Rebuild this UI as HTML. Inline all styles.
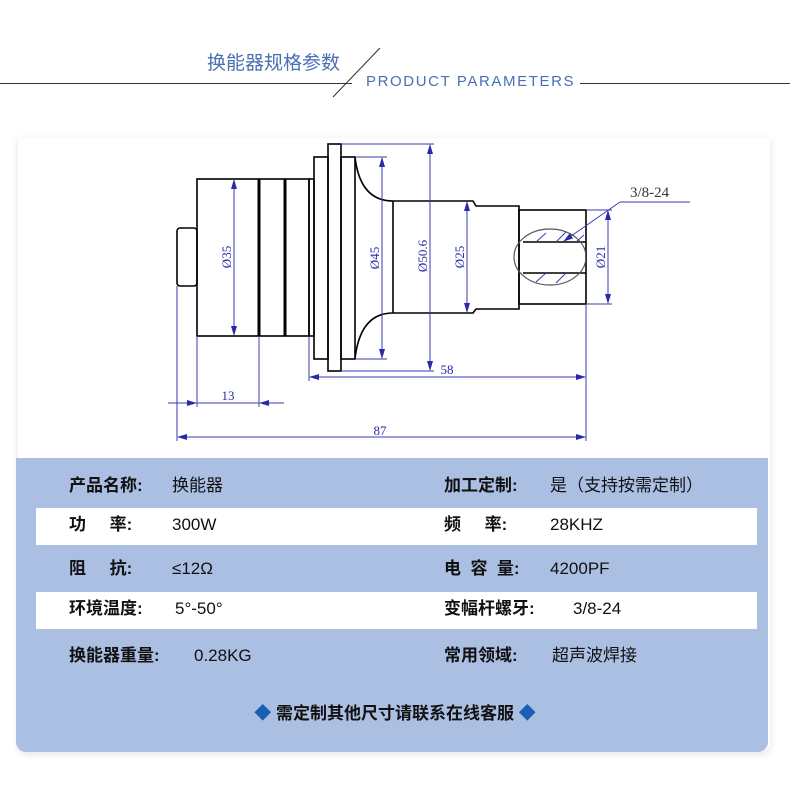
<!DOCTYPE html>
<html><head><meta charset="utf-8"><style>
body{margin:0;width:790px;height:788px;background:#fff;position:relative;overflow:hidden;font-family:"Liberation Sans","Noto Sans CJK SC",sans-serif}
.card{position:absolute;left:18px;top:138px;width:752px;height:614px;background:#fff;box-shadow:0 2px 8px rgba(0,0,0,.12);border-radius:0 0 10px 10px}
.panel{position:absolute;left:16px;top:458px;width:752px;height:294px;background:#abbfe3;border-radius:0 0 10px 10px}
.row{position:absolute;left:36px;width:721px;height:37px;background:#fff}
.t{position:absolute;font-size:17px;color:#111;white-space:nowrap;line-height:20px}
.b{font-weight:bold}
</style></head><body>
<div class="card"></div>
<div style="position:absolute;left:0;top:83px;width:352px;height:1px;background:#333"></div>
<div style="position:absolute;left:580px;top:83px;width:210px;height:1px;background:#333"></div>
<svg style="position:absolute;left:0;top:0" width="790" height="120"><line x1="333" y1="97" x2="380" y2="48" stroke="#333" stroke-width="1"/></svg>
<div class="t" style="left:207px;top:54px;color:#4a6fb5;font-size:19px">换能器规格参数</div>
<div class="t" style="left:366px;top:72px;color:#4a6fb5;font-size:15px;letter-spacing:1.6px">PRODUCT PARAMETERS</div>

<svg style="position:absolute;left:0;top:0" width="790" height="460">
<defs><marker id="a" markerWidth="10" markerHeight="6" refX="9" refY="3" orient="auto-start-reverse"><path d="M0,0L10,3L0,6z" fill="#2a2aa8"/></marker>
<clipPath id="c"><rect x="500" y="200" width="86" height="110"/></clipPath></defs>
<g fill="none" stroke="#000" stroke-width="1.6">
<rect x="177" y="228" width="20" height="58" rx="3"/>
<rect x="197" y="179" width="112" height="157"/>
<line x1="259" y1="179" x2="259" y2="336" stroke-width="3"/>
<line x1="285" y1="179" x2="285" y2="336" stroke-width="3"/>
<rect x="309" y="179" width="5" height="157"/>
<rect x="314" y="157" width="14" height="202"/>
<rect x="328" y="144" width="13" height="227"/>
<rect x="341" y="157" width="14" height="202"/>
<path d="M355,157 Q360,201 393,201 L473,201 L476,206 L519,206 L519,309 L476,309 L473,313 L393,313 Q360,313 355,359"/>
<line x1="393" y1="201" x2="393" y2="313"/>
<rect x="519" y="210" width="67" height="94"/>
<line x1="523" y1="242" x2="586" y2="242"/><line x1="523" y1="273" x2="586" y2="273"/>
</g>
<ellipse cx="550" cy="257" rx="36" ry="28" fill="none" stroke="#555" stroke-width="1.2" clip-path="url(#c)"/>
<g stroke="#3a3ab0" stroke-width="1">
<line x1="536" y1="242" x2="546" y2="233"/><line x1="556" y1="242" x2="566" y2="232"/><line x1="576" y1="242" x2="584" y2="235"/>
<line x1="536" y1="282" x2="546" y2="273"/><line x1="556" y1="283" x2="566" y2="273"/>
</g>
<g stroke="#3a3ab0" stroke-width="1" fill="none">
<line x1="234" y1="180" x2="234" y2="335" marker-end="url(#a)" marker-start="url(#a)"/>
<line x1="355" y1="157" x2="387" y2="157"/><line x1="355" y1="359" x2="387" y2="359"/>
<line x1="382" y1="158" x2="382" y2="358" marker-end="url(#a)" marker-start="url(#a)"/>
<line x1="341" y1="144" x2="434" y2="144"/><line x1="341" y1="371" x2="434" y2="371"/>
<line x1="430" y1="145" x2="430" y2="370" marker-end="url(#a)" marker-start="url(#a)"/>
<line x1="467" y1="202" x2="467" y2="312" marker-end="url(#a)" marker-start="url(#a)"/>
<line x1="586" y1="210" x2="612" y2="210"/><line x1="586" y1="304" x2="612" y2="304"/>
<line x1="608" y1="211" x2="608" y2="303" marker-end="url(#a)" marker-start="url(#a)"/>
<line x1="690" y1="202" x2="620" y2="202"/><line x1="620" y1="202" x2="564" y2="241" marker-end="url(#a)"/>
<line x1="309" y1="336" x2="309" y2="381"/><line x1="586" y1="304" x2="586" y2="441"/>
<line x1="310" y1="377" x2="585" y2="377" marker-end="url(#a)" marker-start="url(#a)"/>
<line x1="197" y1="336" x2="197" y2="407"/><line x1="259" y1="336" x2="259" y2="407"/><line x1="177" y1="286" x2="177" y2="441"/>
<line x1="168" y1="403" x2="196" y2="403" marker-end="url(#a)"/><line x1="284" y1="403" x2="260" y2="403" marker-end="url(#a)"/>
<line x1="197" y1="403" x2="259" y2="403"/>
<line x1="178" y1="437" x2="585" y2="437" marker-end="url(#a)" marker-start="url(#a)"/>
</g>
<g fill="#2a2aa8" font-family="Liberation Serif,serif" font-size="13">
<text transform="translate(231,257) rotate(-90)" text-anchor="middle">Ø35</text>
<text transform="translate(379,258) rotate(-90)" text-anchor="middle">Ø45</text>
<text transform="translate(427,256) rotate(-90)" text-anchor="middle">Ø50.6</text>
<text transform="translate(464,257) rotate(-90)" text-anchor="middle">Ø25</text>
<text transform="translate(605,257) rotate(-90)" text-anchor="middle">Ø21</text>
<text x="447" y="374" text-anchor="middle">58</text>
<text x="228" y="400" text-anchor="middle">13</text>
<text x="380" y="435" text-anchor="middle">87</text>
<text x="630" y="197" font-size="15" fill="#333">3/8-24</text>
</g>
</svg>

<div class="panel"></div>
<div class="row" style="top:508px"></div>
<div class="row" style="top:592px"></div>
<div class="t b" style="left:69px;top:476px">产品名称:</div><div class="t" style="left:172px;top:476px">换能器</div>
<div class="t b" style="left:444px;top:476px">加工定制:</div><div class="t" style="left:550px;top:476px">是（支持按需定制）</div>
<div class="t b" style="left:69px;top:515px">功&nbsp;&nbsp;&nbsp;&nbsp;&nbsp;率:</div><div class="t" style="left:172px;top:515px">300W</div>
<div class="t b" style="left:444px;top:515px">频&nbsp;&nbsp;&nbsp;&nbsp;&nbsp;率:</div><div class="t" style="left:550px;top:515px">28KHZ</div>
<div class="t b" style="left:69px;top:559px">阻&nbsp;&nbsp;&nbsp;&nbsp;&nbsp;抗:</div><div class="t" style="left:172px;top:559px">≤12Ω</div>
<div class="t b" style="left:444px;top:559px">电&nbsp;&nbsp;容&nbsp;&nbsp;量:</div><div class="t" style="left:550px;top:559px">4200PF</div>
<div class="t b" style="left:69px;top:599px">环境温度:</div><div class="t" style="left:175px;top:599px">5°-50°</div>
<div class="t b" style="left:444px;top:599px">变幅杆螺牙:</div><div class="t" style="left:573px;top:599px">3/8-24</div>
<div class="t b" style="left:69px;top:646px">换能器重量:</div><div class="t" style="left:194px;top:646px">0.28KG</div>
<div class="t b" style="left:444px;top:646px">常用领域:</div><div class="t" style="left:552px;top:646px">超声波焊接</div>
<div class="t b" style="left:0;width:790px;text-align:center;top:704px"><span style="color:#1a5fb4">◆</span> 需定制其他尺寸请联系在线客服 <span style="color:#1a5fb4">◆</span></div>
</body></html>
